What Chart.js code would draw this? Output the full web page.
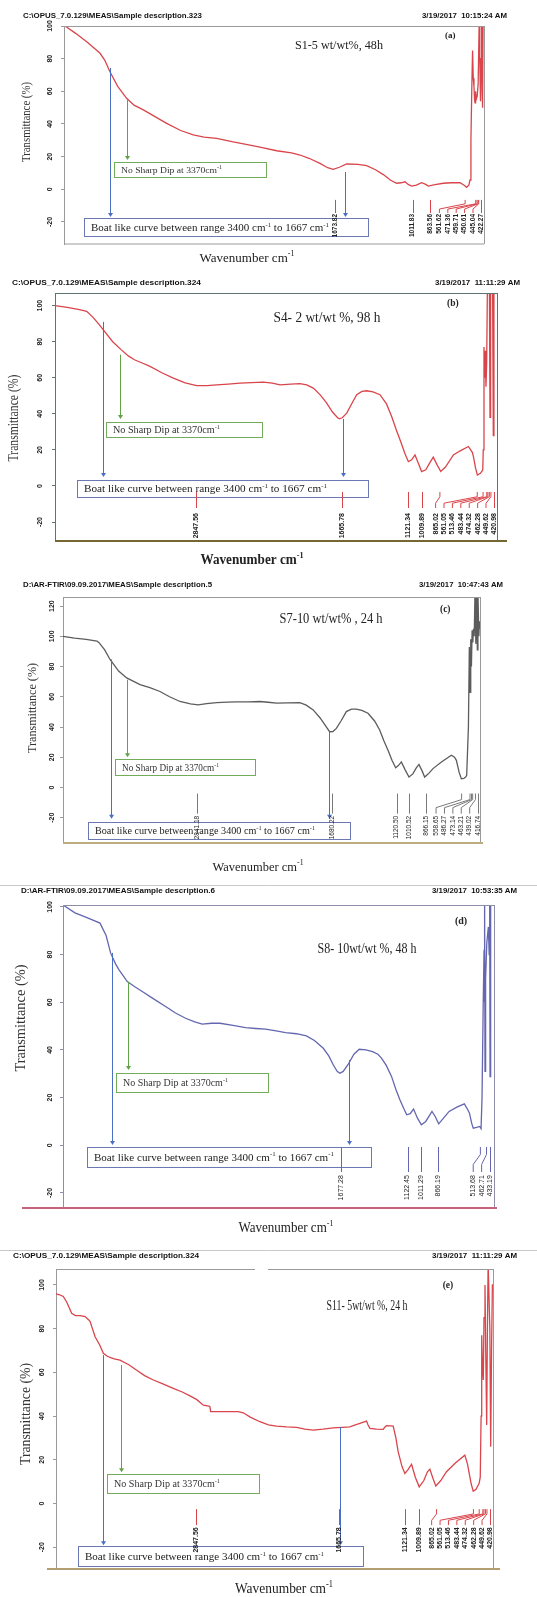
<!DOCTYPE html>
<html>
<head>
<meta charset="utf-8">
<script src="https://cdn.jsdelivr.net/npm/chart.js@4.4.1/dist/chart.umd.min.js"></script>
<style>
  html, body { margin: 0; padding: 0; background: #fff; }
  #page { position: relative; width: 537px; height: 1597px; overflow: hidden; background: #fff; }
  #page canvas { position: absolute; left: 0; }
</style>
</head>
<body>
<div id="page"></div>
<script>
// FTIR spectra: [wavenumber (cm-1), transmittance (%)]
const spectrumS1 = [
  [4000,100.5],[3991,100],[3900,95.5],[3800,90],[3691,83.3],[3650,79],[3606,72],[3540,63],[3463,55.7],[3400,51.5],
  [3320,48.6],[3220,44.5],[3120,40.4],[3000,36],[2892,33.3],[2800,32],[2691,31.2],[2550,29],[2406,27.1],[2300,25.5],
  [2177,23.6],[2050,22.3],[1977,21],[1900,19],[1806,15.9],[1740,13.2],[1692,12.2],[1640,13.5],[1577,15.5],[1480,15.3],
  [1406,14.5],[1330,12],[1263,9],[1200,5.5],[1149,3.7],[1110,4],[1077,4.6],[1050,3],[1020,2],[980,2.5],[934,4],[900,3],
  [877,2],[820,2.8],[749,3.7],[680,4],[606,4],[570,2.5],[549,1.2],[530,2.5],[520,5.7],[512,30],[505,60],[498,85],
  [492,68],[486,63],[481,55],[477,53],[472,60],[467,55],[458,57],[450,65],[441,104],[436,80],[430,54],[425,80],
  [420,106],[416,60],[412,50],[408,104],[402,104]
];
const spectrumS4 = [
  [4000,100],[3900,99],[3800,97.8],[3742,96.8],[3690,93.5],[3640,89.5],[3600,86],[3530,80],[3462,75.6],[3400,72],
  [3353,70],[3290,68.2],[3226,66.3],[3130,62.8],[3036,59.8],[2940,57.2],[2846,55.6],[2760,55.6],[2683,56.1],[2590,56.5],
  [2493,57],[2400,57.3],[2303,57.6],[2230,57],[2167,56.1],[2080,56.5],[2005,56.7],[1950,56],[1896,54.3],[1840,50.5],
  [1787,45.9],[1740,41],[1700,38],[1684,37.2],[1660,37.8],[1624,40.4],[1580,46],[1543,50.6],[1500,52.4],[1461,52.8],
  [1410,52.2],[1353,50.6],[1300,45.5],[1258,38.5],[1220,31],[1190,25.6],[1150,18],[1122,13.5],[1095,14.5],[1068,17.2],
  [1040,12.5],[1014,8],[980,9],[950,12.5],[919,16],[890,12],[858,8],[820,10.5],[755,17.2],[700,19.5],[633,21.9],
  [600,18.5],[592,16.3],[575,10],[560,6.1],[535,7],[516,8.9],[512,20],[506,77],[500,60],[496,75],[490,55],[484,68],
  [478,112],[462,112],[457,38],[452,112],[436,112],[430,28],[425,112],[400,112]
];
const spectrumS7 = [
  [4000,100],[3900,98.8],[3800,98],[3707,96.9],[3689,95.8],[3640,91],[3594,84.7],[3520,77],[3450,72.5],[3335,68],
  [3250,66],[3163,63.5],[3080,60],[2990,56.9],[2900,55.3],[2832,54.7],[2760,55.5],[2673,56.2],[2580,56.5],[2501,56.7],
  [2400,56.7],[2300,56.9],[2230,56.4],[2156,55.8],[2060,56],[1955,56.2],[1900,54.5],[1840,51.3],[1780,46],[1730,40.5],
  [1698,36.9],[1670,37],[1640,39.1],[1600,44],[1554,50.2],[1510,51.8],[1468,51.8],[1420,51],[1367,49.1],[1310,44],
  [1266,38],[1230,31],[1194,24.7],[1160,18],[1128,13.1],[1105,14.5],[1079,16.9],[1045,11.5],[1013,6.9],[980,9],
  [950,13],[927,15.3],[900,11],[878,6.9],[840,9.5],[806,12.5],[730,17],[647,21.3],[620,20],[604,18],[580,10],
  [561,5.8],[540,6],[524,6.9],[515,8],[500,40],[492,93],[486,63],[480,98],[474,80],[468,104],[462,96],[456,105],
  [450,100],[443,130],[436,95],[430,130],[423,91],[418,130],[410,100],[405,110],[400,105]
];
const spectrumS8 = [
  [4000,100.8],[3900,97.5],[3800,95.5],[3691,93.2],[3640,88],[3602,80.6],[3560,76],[3532,73.6],[3463,68.7],[3400,66.5],
  [3338,64.5],[3240,61.3],[3143,58.2],[3060,55.5],[2976,53.3],[2900,51.8],[2837,50.8],[2760,51.2],[2689,51.2],[2580,50.3],
  [2475,49.4],[2390,49],[2308,48.7],[2220,48],[2141,47.3],[2050,46.8],[1967,45.9],[1900,44],[1826,40.7],[1780,37.5],
  [1742,33.7],[1710,31],[1687,30.2],[1660,31],[1621,33.7],[1570,38.2],[1526,40.3],[1470,40],[1414,39.3],[1370,38.2],
  [1340,36.6],[1300,33.5],[1256,28.9],[1220,23.5],[1186,19.1],[1150,15],[1129,12.8],[1100,13.3],[1072,15.2],[1040,11.5],
  [1007,8.6],[970,10],[918,14.2],[890,12],[862,9],[820,11.5],[775,14.2],[710,16],[648,17.4],[620,15],[605,13.5],
  [585,9],[573,7.2],[545,7.5],[520,7.9],[508,7],[500,20],[490,60],[483,82],[480,60],[477,104],[475,31],[470,70],
  [460,85],[447,91.6],[440,80],[436,104],[433,28.8],[428,104],[400,104]
];
const spectrumS11 = [
  [4000,95.9],[3970,95.5],[3940,94.7],[3910,92],[3871,87],[3840,86],[3800,86],[3760,85.5],[3730,84],[3719,83.2],
  [3700,80],[3678,76.3],[3640,72.5],[3610,68.7],[3580,67.5],[3555,66.8],[3520,66.2],[3473,65.6],[3400,63.5],[3335,61],
  [3270,58.5],[3198,56.5],[3120,54.7],[3034,52.7],[2960,51],[2896,49.2],[2840,47.5],[2786,45],[2740,44.6],[2732,44.3],
  [2726,42],[2620,42],[2500,42],[2457,41.5],[2400,39.5],[2320,37.4],[2250,36],[2183,35.4],[2100,35],[2018,34.8],
  [1950,34],[1881,33.6],[1800,34],[1716,34.6],[1640,34.8],[1579,35],[1540,35.8],[1497,36.6],[1442,37.7],[1430,36],
  [1414,34.4],[1360,34],[1304,33.9],[1290,35],[1277,35.6],[1222,35.4],[1200,30],[1181,23.6],[1150,17],[1126,13.7],
  [1100,15.5],[1071,17.9],[1040,12],[1008,7.6],[970,10.5],[940,14.5],[920,15.7],[895,11.5],[871,8],[830,10.5],
  [783,14.5],[710,18.5],[632,22.1],[610,18],[580,9],[563,5.6],[540,6.5],[514,9.2],[505,12],[498,40],[493,77],
  [488,65],[480,56.5],[474,85],[466,100],[460,70],[452,35.9],[446,80],[440,110],[426,80],[419,26],[412,70],
  [405,100],[400,100]
];

// picked peak positions (cm-1)
const peaksS1 = [1673.82, 1011.83, 863.56, 561.62, 471.36, 459.71, 450.61, 445.04, 422.27];
const peaksS4 = [2847.56, 1665.78, 1121.34, 1009.89, 865.02, 561.05, 513.46, 483.44, 474.32, 462.28, 449.62, 420.98];
const peaksS7 = [2841.18, 1680.22, 1120.50, 1010.52, 866.15, 558.65, 486.27, 473.14, 463.21, 439.02, 416.74];
const peaksS8 = [1677.28, 1122.45, 1011.29, 866.19, 513.68, 462.71, 433.19];
const peaksS11 = [2847.56, 1665.78, 1121.34, 1009.89, 865.02, 561.05, 513.46, 483.44, 474.32, 462.28, 449.62, 420.98];

const sampleTitles = ['S1-5 wt/wt%, 48h', 'S4- 2 wt/wt %, 98 h', 'S7-10 wt/wt% , 24 h', 'S8- 10wt/wt %, 48 h', 'S11- 5wt/wt %, 24 h'];
const panelLetters = ['(a)', '(b)', '(c)', '(d)', '(e)'];
const filePaths = [
  'C:\\OPUS_7.0.129\\MEAS\\Sample description.323',
  'C:\\OPUS_7.0.129\\MEAS\\Sample description.324',
  'D:\\AR-FTIR\\09.09.2017\\MEAS\\Sample description.5',
  'D:\\AR-FTIR\\09.09.2017\\MEAS\\Sample description.6',
  'C:\\OPUS_7.0.129\\MEAS\\Sample description.324'
];
const timestamps = ['3/19/2017  10:15:24 AM', '3/19/2017  11:11:29 AM', '3/19/2017  10:47:43 AM', '3/19/2017  10:53:35 AM', '3/19/2017  11:11:29 AM'];
const noDipNote = 'No Sharp Dip at 3370cm^{-1}';
const boatNote = 'Boat like curve between range 3400 cm^{-1} to 1667 cm^{-1}';
const yAxisLabel = 'Transmittance (%)';
const xAxisLabel = 'Wavenumber cm^{-1}';
const wavenumberRange = [400, 4000];
const yTickStep = 20;

const SERIF = '"Liberation Serif", "Times New Roman", serif';
const SANS = '"Liberation Sans", Arial, sans-serif';
const RED = '#d9454b';

// layout and styling of each panel (page pixels for page furniture, data units inside the plot)
const panels = [
  { spectrum: spectrumS1, peaks: peaksS1, band: [0, 272], plot: { l: 64, r: 484, t: 26, b: 244 }, yRange: [-33.5, 100], tickGap: 14,
    color: RED, frame: '#9a9a9a', base: { from: 64, to: 484, color: '#9a9a9a', w: 1 },
    header: { y: 15, lx: 23, lw: 179, rx: 422, rw: 85 },
    yTitle: { x: 25, y: 122, len: 80, size: 13 }, xTitle: { x: 247, y: 257, w: 95, size: 13, weight: 'normal' },
    title: { wn: 1643, v: 88.4, w: 88, size: 12 }, letter: { wn: 690, v: 94.5, size: 9 },
    green: { box: [3571, 16.7, 2269, 7.5], w: 101, size: 9, arrow: [3460, 55.3, 17.9] },
    blue: { box: [3829, -17.6, 1394, -28.6], w: 238, size: 10, arrows: [[3606, 74.3, -17], [1591, 10.6, -17]] },
    peakLines: { v0: -6.5, v1: -14.5, vText: -15.1, size: 6.5, weight: 'bold', color: RED } },
  { spectrum: spectrumS4, peaks: peaksS4, band: [272, 578], plot: { l: 55, r: 497, t: 293, b: 541 }, yRange: [-30.5, 107], tickGap: 15,
    color: RED, frame: '#5e7474', base: { from: 55, to: 507, color: '#74672f', w: 2 },
    header: { y: 282, lx: 12, lw: 189, rx: 435, rw: 85 },
    yTitle: { x: 13, y: 418, len: 87, size: 14 }, xTitle: { x: 252, y: 559, w: 103, size: 14, weight: 'bold' },
    title: { wn: 1785, v: 93.9, w: 107, size: 14 }, letter: { wn: 760, v: 101.7, size: 9.5 },
    green: { box: [3585, 35.6, 2314, 27.2], w: 107, size: 10, arrow: [3471, 72.8, 37.2] },
    blue: { box: [3821, 3.3, 1451, -6.1], w: 243, size: 11, arrows: [[3609, 91, 5], [1654, 37.2, 5]] },
    peakLines: { v0: -3.3, v1: -12.2, vText: -15, size: 7, weight: 'bold', color: RED } },
  { spectrum: spectrumS7, peaks: peaksS7, band: [578, 884], plot: { l: 63, r: 480, t: 597, b: 843 }, yRange: [-36.7, 126], tickGap: 11,
    color: '#5c5c5c', frame: '#9a9a9a', base: { from: 63, to: 483, color: '#bcae80', w: 2 },
    header: { y: 584, lx: 23, lw: 189, rx: 419, rw: 84 },
    yTitle: { x: 31, y: 708, len: 90, size: 13 }, xTitle: { x: 258, y: 866, w: 91, size: 13, weight: 'normal' },
    title: { wn: 1686, v: 112, w: 103, size: 14 }, letter: { wn: 700, v: 118, size: 9.5 },
    green: { box: [3551, 18.7, 2342, 8], w: 97, size: 9.5, arrow: [3447, 71.3, 20] },
    blue: { box: [3784, -22.7, 1522, -34], w: 220, size: 10, arrows: [[3586, 84.7, -20.7], [1704, 36.7, -20.7]] },
    peakLines: { v0: -4, v1: -17.3, vText: -18.7, size: 6.5, weight: 'normal', color: '#7a7a7a' } },
  { spectrum: spectrumS8, peaks: peaksS8, band: [884, 1248], plot: { l: 63, r: 494, t: 905, b: 1208 }, yRange: [-26.3, 100.8], tickGap: 13,
    color: '#6466b0', frame: '#8e8ea8', base: { from: 22, to: 497, color: '#c4647c', w: 2 }, separator: 885,
    header: { y: 890, lx: 21, lw: 194, rx: 432, rw: 85 },
    yTitle: { x: 20, y: 1018, len: 107, size: 14 }, xTitle: { x: 286, y: 1227, w: 95, size: 14, weight: 'normal' },
    title: { wn: 1461, v: 82.8, w: 99, size: 14 }, letter: { wn: 675, v: 94.5, size: 10 },
    green: { box: [3557, 30.3, 2288, 22.4], w: 105, size: 10, arrow: [3457, 68.5, 31.6] },
    blue: { box: [3800, -0.7, 1427, -8.9], w: 240, size: 11, arrows: [[3591, 80.7, 0.1], [1611, 35.8, 0.1]] },
    peakLines: { v0: -0.7, v1: -11.2, vText: -12.5, size: 7, weight: 'normal', color: '#6466b0' } },
  { spectrum: spectrumS11, peaks: peaksS11, band: [1248, 1597], plot: { l: 56, r: 493, t: 1269, b: 1569 }, yRange: [-30, 107.3], tickGap: 14,
    color: RED, frame: '#9a9a9a', base: { from: 47, to: 500, color: '#b49e72', w: 2 }, separator: 1250, topGap: [255, 268],
    header: { y: 1255, lx: 13, lw: 186, rx: 432, rw: 85 },
    yTitle: { x: 25, y: 1414, len: 102, size: 14 }, xTitle: { x: 284, y: 1588, w: 98, size: 15, weight: 'normal' },
    title: { wn: 1438, v: 90.8, w: 81, size: 15 }, letter: { wn: 771, v: 100, size: 9.5 },
    green: { box: [3580, 13.4, 2328, 4.7], w: 106, size: 10, arrow: [3465, 63.4, 14.3] },
    blue: { box: [3819, -19.6, 1471, -28.7], w: 239, size: 11, arrows: [[3613, 67.9, -19.1], [1660, 35, -19.1]] },
    peakLines: { v0: -2.6, v1: -9.9, vText: -10.9, size: 7, weight: 'bold', color: RED } }
];

// text with ^{...} superscripts, optionally squeezed to a given width
function parseRich(str) {
  const out = []; const re = /\^\{([^}]*)\}/g; let last = 0, m;
  while ((m = re.exec(str))) {
    if (m.index > last) out.push({ t: str.slice(last, m.index), sup: false });
    out.push({ t: m[1], sup: true });
    last = re.lastIndex;
  }
  if (last < str.length) out.push({ t: str.slice(last), sup: false });
  return out;
}
function drawRich(ctx, str, x, y, o) {
  const size = o.size, fam = o.family || SERIF, wt = o.weight || 'normal';
  const segs = parseRich(str);
  let total = 0;
  segs.forEach(s => {
    s.size = s.sup ? size * 0.62 : size;
    ctx.font = `${wt} ${s.size}px ${fam}`;
    s.w = ctx.measureText(s.t).width;
    total += s.w;
  });
  const sx = o.width ? o.width / total : 1;
  ctx.save();
  ctx.translate(x, y);
  if (o.rotate) ctx.rotate(o.rotate);
  ctx.scale(sx, 1);
  ctx.fillStyle = o.color || '#151515';
  ctx.textBaseline = 'alphabetic';
  ctx.textAlign = 'left';
  let cx = o.align === 'center' ? -total / 2 : (o.align === 'right' ? -total : 0);
  const base = size * 0.35;
  segs.forEach(s => {
    ctx.font = `${wt} ${s.size}px ${fam}`;
    ctx.fillText(s.t, cx, base - (s.sup ? size * 0.4 : 0));
    cx += s.w;
  });
  ctx.restore();
}
function arrowDown(ctx, x, y0, y1, color) {
  ctx.strokeStyle = color; ctx.fillStyle = color; ctx.lineWidth = 1;
  ctx.beginPath(); ctx.moveTo(x, y0); ctx.lineTo(x, y1 - 3); ctx.stroke();
  ctx.beginPath(); ctx.moveTo(x - 2.5, y1 - 4); ctx.lineTo(x + 2.5, y1 - 4); ctx.lineTo(x, y1); ctx.closePath(); ctx.fill();
}

function panelPlugin(p, idx) {
  const off = p.band[0];
  return {
    id: 'ftirPanel',
    afterDraw(chart) {
      const ctx = chart.ctx, xs = chart.scales.x, ys = chart.scales.y, a = chart.chartArea;
      const X = w => xs.getPixelForValue(w), Y = v => ys.getPixelForValue(v);
      ctx.save();

      // frame: top and right edges, then the base line
      ctx.strokeStyle = p.frame; ctx.lineWidth = 1;
      ctx.beginPath();
      if (p.topGap) {
        ctx.moveTo(a.left, a.top + 0.5); ctx.lineTo(p.topGap[0], a.top + 0.5);
        ctx.moveTo(p.topGap[1], a.top + 0.5); ctx.lineTo(a.right, a.top + 0.5);
      } else {
        ctx.moveTo(a.left, a.top + 0.5); ctx.lineTo(a.right, a.top + 0.5);
      }
      ctx.moveTo(a.right + 0.5, a.top); ctx.lineTo(a.right + 0.5, a.bottom);
      ctx.stroke();
      ctx.strokeStyle = p.base.color; ctx.lineWidth = p.base.w;
      ctx.beginPath(); ctx.moveTo(p.base.from, a.bottom); ctx.lineTo(p.base.to, a.bottom); ctx.stroke();

      if (p.separator != null) {
        ctx.strokeStyle = '#c8c8c8'; ctx.lineWidth = 1;
        ctx.beginPath(); ctx.moveTo(0, p.separator - off + 0.5); ctx.lineTo(537, p.separator - off + 0.5); ctx.stroke();
      }

      // header line of the instrument printout
      drawRich(ctx, filePaths[idx], p.header.lx, p.header.y - off, { size: 7.5, family: SANS, weight: 'bold', width: p.header.lw, color: '#111' });
      drawRich(ctx, timestamps[idx], p.header.rx, p.header.y - off, { size: 7.5, family: SANS, weight: 'bold', width: p.header.rw, color: '#111' });

      // axis titles
      drawRich(ctx, yAxisLabel, p.yTitle.x, p.yTitle.y - off, { size: p.yTitle.size, width: p.yTitle.len, align: 'center', rotate: -Math.PI / 2, color: '#333' });
      drawRich(ctx, xAxisLabel, p.xTitle.x, p.xTitle.y - off, { size: p.xTitle.size, width: p.xTitle.w, align: 'center', weight: p.xTitle.weight, color: '#222' });

      // sample title and panel letter
      drawRich(ctx, sampleTitles[idx], X(p.title.wn), Y(p.title.v), { size: p.title.size, width: p.title.w, align: 'center', color: '#222' });
      drawRich(ctx, panelLetters[idx], X(p.letter.wn), Y(p.letter.v), { size: p.letter.size, weight: 'bold', align: 'center', color: '#222' });

      // annotation boxes
      const g = p.green, b = p.blue;
      ctx.lineWidth = 1;
      ctx.strokeStyle = '#74ad5a';
      let gx0 = X(g.box[0]), gy0 = Y(g.box[1]), gx1 = X(g.box[2]), gy1 = Y(g.box[3]);
      ctx.strokeRect(Math.round(gx0) + 0.5, Math.round(gy0) + 0.5, Math.round(gx1 - gx0), Math.round(gy1 - gy0));
      drawRich(ctx, noDipNote, gx0 + 7, (gy0 + gy1) / 2, { size: g.size, width: g.w, color: '#333' });
      ctx.strokeStyle = '#6b78b4';
      let bx0 = X(b.box[0]), by0 = Y(b.box[1]), bx1 = X(b.box[2]), by1 = Y(b.box[3]);
      ctx.strokeRect(Math.round(bx0) + 0.5, Math.round(by0) + 0.5, Math.round(bx1 - bx0), Math.round(by1 - by0));
      drawRich(ctx, boatNote, bx0 + 7, (by0 + by1) / 2, { size: b.size, width: b.w, color: '#222' });

      // arrows
      arrowDown(ctx, Math.round(X(g.arrow[0])) + 0.5, Y(g.arrow[1]), Y(g.arrow[2]), '#5fa346');
      b.arrows.forEach(ar => arrowDown(ctx, Math.round(X(ar[0])) + 0.5, Y(ar[1]), Y(ar[2]), '#4a6fc4'));

      // peak markers with leader lines and rotated labels
      const pl = p.peakLines;
      const pos = p.peaks.map(w => X(w));
      const lab = pos.slice();
      for (let i = lab.length - 2; i >= 0; i--) lab[i] = Math.min(pos[i], lab[i + 1] - 8.4);
      const top = Y(pl.v0), bot = Y(pl.v1), k1 = top + (bot - top) * 0.3, k2 = top + (bot - top) * 0.7;
      ctx.strokeStyle = pl.color; ctx.lineWidth = 1;
      pos.forEach((x0, i) => {
        const x1 = lab[i];
        ctx.beginPath();
        if (Math.abs(x1 - x0) < 0.6) {
          ctx.moveTo(Math.round(x0) + 0.5, top); ctx.lineTo(Math.round(x0) + 0.5, bot);
        } else {
          ctx.moveTo(x0, top); ctx.lineTo(x0, k1); ctx.lineTo(x1, k2); ctx.lineTo(x1, bot);
        }
        ctx.stroke();
      });
      ctx.fillStyle = '#222';
      ctx.font = `${pl.weight} ${pl.size}px ${SANS}`;
      ctx.textAlign = 'right'; ctx.textBaseline = 'middle';
      const ty = Y(pl.vText);
      p.peaks.forEach((w, i) => {
        ctx.save();
        ctx.translate(lab[i], ty);
        ctx.rotate(-Math.PI / 2);
        ctx.fillText(w.toFixed(2), 0, 0);
        ctx.restore();
      });
      ctx.restore();
    }
  };
}

const page = document.getElementById('page');
panels.forEach((p, idx) => {
  const h = p.band[1] - p.band[0];
  const cv = document.createElement('canvas');
  cv.width = 537; cv.height = h;
  cv.style.top = p.band[0] + 'px';
  cv.style.width = '537px'; cv.style.height = h + 'px';
  page.appendChild(cv);
  const tickPad = p.tickGap - 3 - 6;
  new Chart(cv, {
    type: 'line',
    data: {
      datasets: [{
        data: p.spectrum.map(([x, y]) => ({ x, y })),
        borderColor: p.color,
        borderWidth: 1.3,
        pointRadius: 0,
        fill: false,
        tension: 0
      }]
    },
    options: {
      responsive: false,
      animation: false,
      devicePixelRatio: 1,
      events: [],
      layout: { padding: { left: 0, top: p.plot.t - p.band[0], right: 537 - p.plot.r, bottom: p.band[1] - p.plot.b } },
      plugins: { legend: { display: false }, tooltip: { enabled: false } },
      scales: {
        x: { type: 'linear', min: wavenumberRange[0], max: wavenumberRange[1], reverse: true, display: false },
        y: {
          type: 'linear', position: 'left', min: p.yRange[0], max: p.yRange[1],
          afterFit: s => { s.width = p.plot.l; },
          border: { display: true, color: p.frame, width: 1 },
          grid: { display: true, drawOnChartArea: false, drawTicks: true, tickLength: 3, color: p.frame },
          ticks: {
            stepSize: yTickStep, includeBounds: false, minRotation: 90, maxRotation: 90,
            crossAlign: 'center', padding: tickPad, color: '#222',
            font: { family: SANS, size: 7, weight: 'bold' }
          }
        }
      }
    },
    plugins: [panelPlugin(p, idx)]
  });
});
</script>
</body>
</html>
